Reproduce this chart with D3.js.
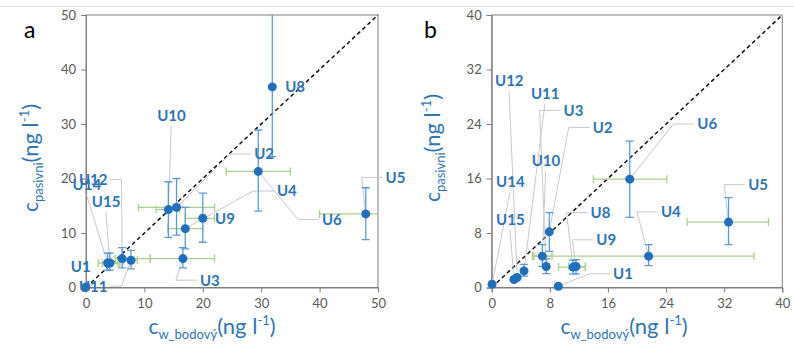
<!DOCTYPE html>
<html>
<head>
<meta charset="utf-8">
<script src="https://cdn.jsdelivr.net/npm/d3@7"></script>
<style>
	body { margin: 0; background: #fff; }
	svg { display: block; font-family: Lato, "Open Sans", sans-serif; }
</style>
</head>
<body>
<svg id="chart" width="794" height="345"></svg>
<script>
(function(){

	// panel a
	const namesA = ["U1", "U2", "U3", "U4", "U5", "U6", "U8", "U9", "U10", "U11", "U12", "U14", "U15"];
	const xA =     [0,    15.5, 16.6, 17.0, 47.9, 29.5, 31.9, 20.0, 14.1, 7.7,  6.2,  3.7,  4.1];
	const yA =     [0.1,  14.7, 5.3,  10.8, 13.5, 21.3, 36.8, 12.7, 14.3, 5.0,  5.3,  4.5,  4.5];
	const yLoA =   [null, 9.6,  3.6,  7.1,  8.8,  14.0, 24.0, 8.3,  9.2,  3.4,  3.6,  3.2,  3.2];
	const yHiA =   [null, 20.0, 7.3,  14.7, 18.3, 28.9, 52.0, 17.3, 19.4, 6.8,  7.3,  6.3,  6.3];
	const xLoA =   [null, 9.0,  11.0, 14.0, 40.0, 24.0, null, 17.0, 12.0, 6.5,  5.0,  2.1,  2.8];
	const xHiA =   [null, 22.0, 22.0, 20.0, 56.0, 35.0, null, 22.0, 16.0, 8.8,  11.0, 5.5,  5.8];
	// label anchors (data units) and leader style
	const labXA =  [-2.6, 28.8, 19.5, 32.7, 51.3, 40.4, 34.1, 22.1, 12.2, -1.2, -1.2, -2.3, 1.0];
	const labYA =  [3.8,  24.5, 1.35, 17.7, 20.2, 12.5, 36.8, 12.7, 31.6, 0.25, 19.8, 18.8, 15.7];
	const leadA =  ["",   "L",  "L",  "L",  "L",  "L",  "",   "",   "B",  "R",  "R",  "B",  "B"];
	const ticksA = [0, 10, 20, 30, 40, 50];

	// panel b
	const namesB = ["U1", "U2", "U3", "U4", "U5", "U6", "U8", "U9", "U10", "U11", "U12", "U14", "U15"];
	const xB =     [9.17, 7.93, 7.5,  21.6, 32.6, 19.0, 11.2, 11.6, 6.97, 4.45, 3.5,  0.05, 3.07];
	const yB =     [0.19, 8.17, 3.08, 4.6,  9.6,  15.9, 3.0,  3.08, 4.6,  2.44, 1.47, 0.48, 1.17];
	const yLoB =   [null, 5.3,  2.05, 3.2,  6.3,  10.3, 2.0,  2.0,  3.1,  1.66, null, null, null];
	const yHiB =   [null, 11.0, 4.2,  6.3,  13.2, 21.5, 4.0,  4.1,  6.3,  3.4,  null, null, null];
	const xLoB =   [null, null, null, 5.6,  26.9, 14.0, 9.2,  10.6, 5.8,  null, null, null, null];
	const xHiB =   [null, null, null, 36.1, 38.1, 24.1, 12.9, 12.9, 8.3,  null, null, null, null];
	const labXB =  [16.7, 13.9, 9.9,  23.3, 35.3, 28.3, 13.6, 14.4, 5.5,  5.4,  0.46, 0.6,  0.6];
	const labYB =  [2.0,  23.5, 26.0, 11.1, 15.1, 24.0, 11.0, 7.0,  18.6, 28.4, 30.3, 15.5, 9.9];
	const leadB =  ["L",  "L",  "L",  "L",  "L",  "L",  "L",  "L",  "B",  "B",  "B",  "B",  "B"];
	const ticksB = [0, 8, 16, 24, 32, 40];

	const pointColor = "#1f6fbf";
	const labelColor = "#2e75b6";
	const yErrColor = "#5b9bd5";
	const xErrColor = "#a9d18e";
	const axisColor = "#7f7f7f";
	const tickTextColor = "#595959";
	const leaderColor = "#c9c9c9";

	const svg = d3.select("#chart");

	// thin gray line at very top
	svg.append("line")
		.attr("x1", 0).attr("x2", 794).attr("y1", 6.5).attr("y2", 6.5)
		.attr("stroke", "#e3e3e3").attr("stroke-width", 1);

	function zip(names, x, y, yLo, yHi, xLo, xHi, lx, ly, lead) {
		return names.map(function(n, i) {
			return {name: n, x: x[i], y: y[i], yLo: yLo[i], yHi: yHi[i], xLo: xLo[i], xHi: xHi[i],
				lx: lx[i], ly: ly[i], lead: lead[i]};
		});
	}

	function drawPanel(cfg) {
		const g = svg.append("g");
		const xs = d3.scaleLinear().domain([0, cfg.max]).range([cfg.left, cfg.right]);
		const ys = d3.scaleLinear().domain([0, cfg.max]).range([cfg.bottom, cfg.top]);

		const clipId = "clip" + cfg.letter;
		svg.append("clipPath").attr("id", clipId)
			.append("rect")
			.attr("x", cfg.left).attr("y", cfg.top)
			.attr("width", cfg.right - cfg.left).attr("height", cfg.bottom - cfg.top);

		// frame
		g.append("rect")
			.attr("x", cfg.left).attr("y", cfg.top)
			.attr("width", cfg.right - cfg.left).attr("height", cfg.bottom - cfg.top)
			.attr("fill", "none").attr("stroke", axisColor).attr("stroke-width", 1);

		const xAxis = g.append("g")
			.attr("transform", "translate(0," + cfg.bottom + ")")
			.call(d3.axisBottom(xs).tickValues(cfg.ticks).tickSize(5).tickPadding(6));
		const yAxis = g.append("g")
			.attr("transform", "translate(" + cfg.left + ",0)")
			.call(d3.axisLeft(ys).tickValues(cfg.ticks).tickSize(5).tickPadding(5));
		[xAxis, yAxis].forEach(function(ax) {
			ax.select(".domain").attr("stroke", axisColor);
			ax.selectAll(".tick line").attr("stroke", axisColor);
			ax.selectAll(".tick text")
				.attr("fill", tickTextColor)
				.style("font-size", "13px")
				.style("font-family", "Lato, sans-serif");
		});

		// 1:1 line
		g.append("line")
			.attr("x1", xs(0)).attr("y1", ys(0))
			.attr("x2", xs(cfg.max)).attr("y2", ys(cfg.max))
			.attr("stroke", "#111").attr("stroke-width", 1.5)
			.attr("stroke-dasharray", "4,3");

		const data = cfg.data;

		// leader lines
		const leaders = g.append("g");
		data.forEach(function(d) {
			if (!d.lead) return;
			const px = xs(d.x), py = ys(d.y);
			const tx = xs(d.lx), ty = ys(d.ly);
			let pts;
			if (d.lead == "L") {
				pts = [[tx - 3, ty], [tx - 24, ty], [px, py]];
			} else if (d.lead == "R") {
				const w = d.name.length * 9.5;
				pts = [[tx + w + 2, ty], [tx + w + 14, ty], [px, py]];
			} else {
				pts = [[tx + 14, ty + 10], [px, py]];
			}
			leaders.append("path")
				.attr("d", d3.line()(pts))
				.attr("fill", "none")
				.attr("stroke", leaderColor)
				.attr("stroke-width", 1);
		});

		const bars = g.append("g").attr("clip-path", "url(#" + clipId + ")");
		const cap = 4;
		// x error bars (green)
		data.filter(function(d) { return d.xLo != null; }).forEach(function(d) {
			const y = ys(d.y);
			bars.append("line")
				.attr("x1", xs(d.xLo)).attr("x2", xs(d.xHi)).attr("y1", y).attr("y2", y)
				.attr("stroke", xErrColor).attr("stroke-width", 1.3);
			[d.xLo, d.xHi].forEach(function(v) {
				bars.append("line")
					.attr("x1", xs(v)).attr("x2", xs(v)).attr("y1", y - cap).attr("y2", y + cap)
					.attr("stroke", xErrColor).attr("stroke-width", 1.3);
			});
		});
		// y error bars (blue)
		data.filter(function(d) { return d.yLo != null; }).forEach(function(d) {
			const x = xs(d.x);
			bars.append("line")
				.attr("x1", x).attr("x2", x).attr("y1", ys(d.yLo)).attr("y2", ys(d.yHi))
				.attr("stroke", yErrColor).attr("stroke-width", 1.3);
			[d.yLo, d.yHi].forEach(function(v) {
				bars.append("line")
					.attr("x1", x - cap).attr("x2", x + cap).attr("y1", ys(v)).attr("y2", ys(v))
					.attr("stroke", yErrColor).attr("stroke-width", 1.3);
			});
		});

		// points
		g.selectAll("circle.pt").data(data).enter().append("circle")
			.attr("class", "pt")
			.attr("cx", function(d) { return xs(d.x); })
			.attr("cy", function(d) { return ys(d.y); })
			.attr("r", 4.5)
			.attr("fill", pointColor);

		// point labels
		g.selectAll("text.lab").data(data).enter().append("text")
			.attr("class", "lab")
			.attr("x", function(d) { return xs(d.lx); })
			.attr("y", function(d) { return ys(d.ly); })
			.attr("dy", "0.36em")
			.attr("fill", labelColor)
			.style("font-size", "15px")
			.style("font-weight", "bold")
			.text(function(d) { return d.name; });

		// panel letter
		g.append("text")
			.attr("x", cfg.letterX).attr("y", 38)
			.style("font-size", "23px")
			.style("font-family", "Lato, sans-serif")
			.attr("fill", "#000")
			.text(cfg.letter);

		// x axis title
		const xt = g.append("text")
			.attr("x", cfg.xTitleX).attr("y", 334)
			.attr("text-anchor", "middle")
			.attr("fill", labelColor);
		axisTitle(xt, "w_bodový");

		// y axis title
		const yt = g.append("text")
			.attr("transform", "translate(" + cfg.yTitleX + "," + cfg.yTitleY + ") rotate(-90)")
			.attr("text-anchor", "middle")
			.attr("fill", labelColor);
		axisTitle(yt, "pasivni");
	}

	function axisTitle(t, sub) {
		t.append("tspan").style("font-size", "21px").text("c");
		t.append("tspan").style("font-size", "13px").attr("dy", 5).text(sub);
		t.append("tspan").style("font-size", "22px").attr("dy", -5).text("(ng l");
		t.append("tspan").style("font-size", "13px").attr("dy", -9).text("-1");
		t.append("tspan").style("font-size", "22px").attr("dy", 9).text(")");
	}

	drawPanel({
		letter: "a", letterX: 24, max: 50, ticks: ticksA,
		left: 86, right: 378, top: 15, bottom: 287.5,
		xTitleX: 212, yTitleX: 38, yTitleY: 158,
		data: zip(namesA, xA, yA, yLoA, yHiA, xLoA, xHiA, labXA, labYA, leadA)
	});

	drawPanel({
		letter: "b", letterX: 424, max: 40, ticks: ticksB,
		left: 491.7, right: 782.3, top: 15, bottom: 287.5,
		xTitleX: 624, yTitleX: 440, yTitleY: 148,
		data: zip(namesB, xB, yB, yLoB, yHiB, xLoB, xHiB, labXB, labYB, leadB)
	});

}());
</script>
</body>
</html>
